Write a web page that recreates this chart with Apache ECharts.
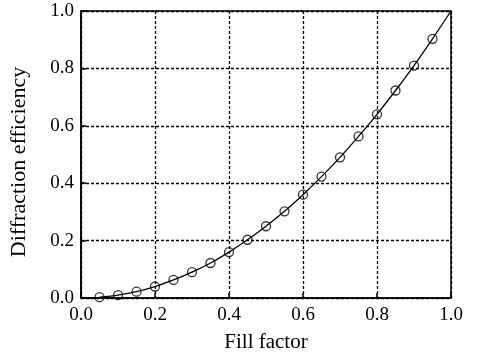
<!DOCTYPE html>
<html>
<head>
<meta charset="utf-8">
<style>
  html, body { margin: 0; padding: 0; background: #fff; }
  #chart { width: 482px; height: 358px; }
</style>
<script src="https://cdn.jsdelivr.net/npm/echarts@6/dist/echarts.min.js"></script>
</head>
<body>
<div id="chart"></div>
<script>
// fill factor vs diffraction efficiency
const fillFactor = [0.05, 0.10, 0.15, 0.20, 0.25, 0.30, 0.35, 0.40, 0.45, 0.50,
                    0.55, 0.60, 0.65, 0.70, 0.75, 0.80, 0.85, 0.90, 0.95];
const efficiency = [0.003, 0.01, 0.022, 0.04, 0.063, 0.09, 0.122, 0.16, 0.203, 0.25,
                    0.302, 0.36, 0.423, 0.49, 0.563, 0.64, 0.723, 0.81, 0.903];
// curve end point (no marker)
const curveEnd = [1.0, 1.0];

const font = 'Liberation Serif';

const chart = echarts.init(document.getElementById('chart'));

const markerPts = fillFactor.map((x, i) => [x, efficiency[i]]);
const curvePts = markerPts.concat([curveEnd]);

const axisCommon = {
    min: 0,
    max: 1,
    interval: 0.2,
    nameLocation: 'middle',
    axisLine: {show: true, onZero: false, lineStyle: {color: '#000', width: 1.5}},
    axisTick: {show: true, inside: true, length: 5, lineStyle: {color: '#000', width: 1.5}},
    axisLabel: {
        fontFamily: font, fontSize: 19, color: '#000',
        formatter: v => v.toFixed(1)
    },
    splitLine: {show: true, lineStyle: {color: '#000', type: [3, 2], width: 1.3}}
};

const option = {
    backgroundColor: '#fff',
    animation: false,
    grid: {left: 79, right: 31, top: 11, bottom: 54, show: true, borderColor: '#000', borderWidth: 1.5},
    xAxis: Object.assign({}, axisCommon, {
        type: 'value',
        name: 'Fill factor',
        nameGap: 34,
        nameTextStyle: {fontFamily: font, fontSize: 21, color: '#000'},
        axisLabel: Object.assign({}, axisCommon.axisLabel, {margin: 8})
    }),
    yAxis: Object.assign({}, axisCommon, {
        type: 'value',
        name: 'Diffraction efficiency',
        nameGap: 51,
        nameTextStyle: {fontFamily: font, fontSize: 22, color: '#000', padding: [0, 15, 0, 0]},
        axisLabel: Object.assign({}, axisCommon.axisLabel, {margin: 7})
    }),
    series: [
        {
            type: 'line',
            data: curvePts,
            smooth: 0.3,
            showSymbol: false,
            lineStyle: {color: '#000', width: 1.3},
            z: 2
        },
        {
            type: 'scatter',
            data: markerPts,
            symbol: 'circle',
            symbolSize: 9,
            itemStyle: {color: 'rgba(0,0,0,0)', borderColor: '#000', borderWidth: 1.3},
            z: 3
        }
    ]
};

chart.setOption(option);
</script>
</body>
</html>
